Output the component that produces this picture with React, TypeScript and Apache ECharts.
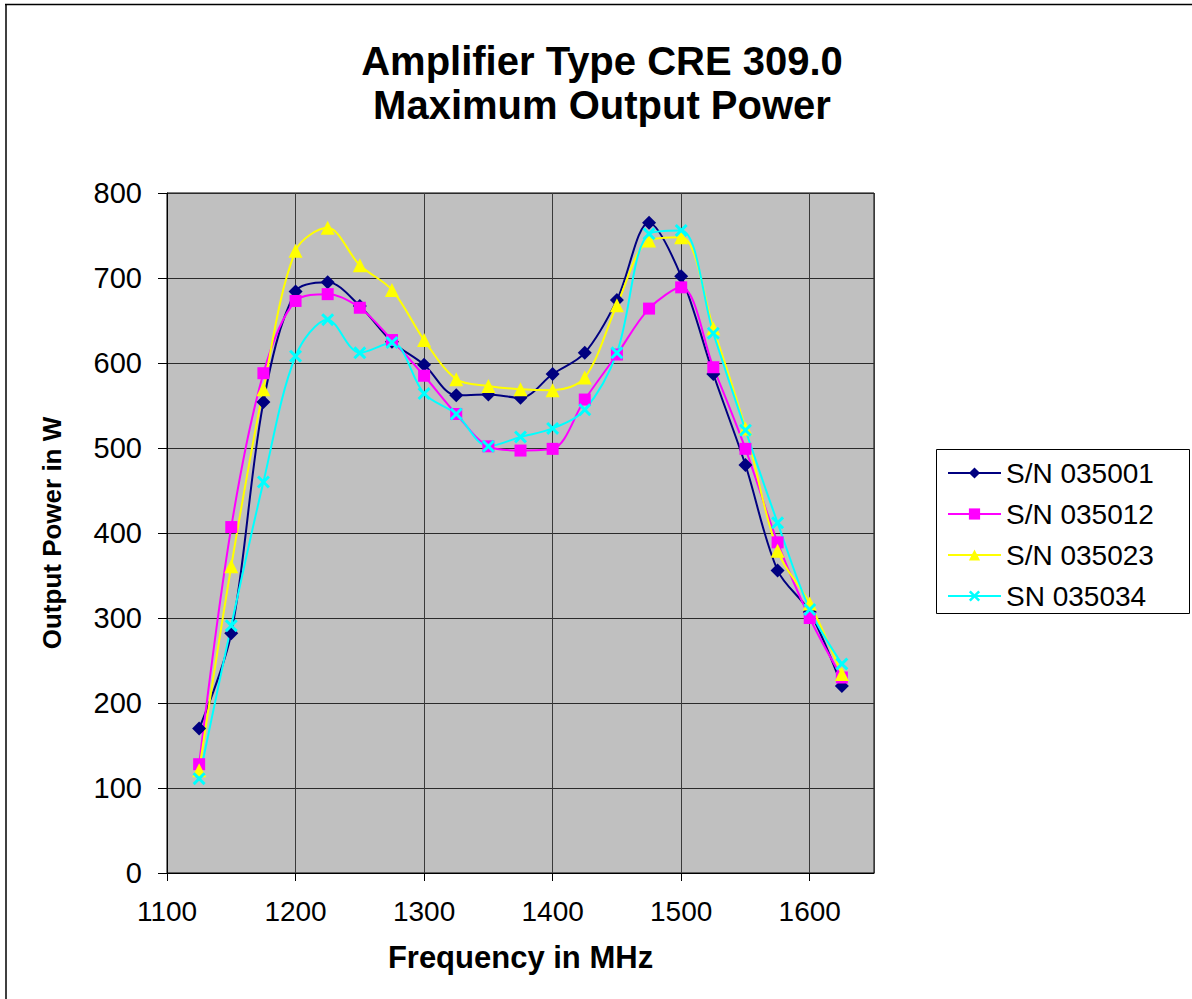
import React, { useEffect, useRef } from "react";
import * as echarts from "echarts";

const frequencies = [1125, 1150, 1175, 1200, 1225, 1250, 1275, 1300, 1325, 1350, 1375, 1400, 1425, 1450, 1475, 1500, 1525, 1550, 1575, 1600, 1625];
const sn035001 = [170, 282, 554, 684, 695, 667, 625, 598, 562, 563, 559, 587, 612, 674, 765, 702, 587, 480, 356, 307, 220];
const sn035012 = [128, 407, 588, 673, 681, 665, 627, 585, 540, 502, 497, 499, 557, 610, 664, 689, 595, 499, 389, 300, 230];
const sn035023 = [121, 361, 569, 732, 759, 715, 686, 627, 581, 573, 569, 568, 583, 668, 744, 748, 641, 523, 379, 317, 234];
const sn035034 = [111, 291, 460, 608, 651, 612, 624, 564, 540, 502, 513, 523, 545, 612, 752, 756, 635, 521, 412, 310, 246];
const seriesNames = ["S/N 035001", "S/N 035012", "S/N 035023", "SN 035034"];
const titleLines = ["Amplifier Type CRE 309.0", "Maximum Output Power"];

const FONT = "'Liberation Sans', Arial, Helvetica, sans-serif";
const CROSS = "path://M0,1.6L1.6,0L5,3.4L8.4,0L10,1.6L6.6,5L10,8.4L8.4,10L5,6.6L1.6,10L0,8.4L3.4,5Z";

export default function App() {
  const ref = useRef<HTMLDivElement>(null);
  useEffect(() => {
    if (!ref.current) return;
    const chart = echarts.init(ref.current, null, { renderer: "svg" });
    const pairs = (vals: number[]) => frequencies.map((f, i) => [f, vals[i]]);
    const mk = (name: string, vals: number[], color: string, symbol: string, size: number) => ({
      name,
      type: "line",
      data: pairs(vals),
      smooth: 0.33,
      symbol,
      symbolSize: size,
      lineStyle: { color, width: 2 },
      itemStyle: { color, borderWidth: 0 },
      emphasis: { disabled: true },
    });
    chart.setOption({
      animation: false,
      backgroundColor: "#ffffff",
      textStyle: { fontFamily: FONT },
      grid: {
        left: 167,
        top: 193,
        width: 707,
        height: 680,
        show: true,
        backgroundColor: "#C0C0C0",
        borderColor: "#000",
        borderWidth: 1,
      },
      xAxis: {
        type: "value",
        min: 1100,
        max: 1650,
        interval: 100,
        name: "Frequency in MHz",
        nameLocation: "middle",
        nameGap: 69,
        nameTextStyle: { fontSize: 31, fontWeight: "bold", color: "#000", fontFamily: FONT },
        axisLine: { show: true, lineStyle: { color: "#000", width: 1 } },
        axisTick: { show: true, length: 8, lineStyle: { color: "#000" } },
        axisLabel: {
          fontSize: 28,
          color: "#000",
          margin: 24,
          showMaxLabel: false,
          fontFamily: FONT,
          formatter: (v: number) => String(v),
        },
        splitLine: { show: true, lineStyle: { color: "#3a3a3a", width: 1 } },
      },
      yAxis: {
        type: "value",
        min: 0,
        max: 800,
        interval: 100,
        name: "Output Power in W",
        nameLocation: "middle",
        nameGap: 102,
        nameTextStyle: { fontSize: 26, fontWeight: "bold", color: "#000", fontFamily: FONT },
        axisLine: { show: true, lineStyle: { color: "#000", width: 1 } },
        axisTick: { show: true, length: 9, lineStyle: { color: "#000" } },
        axisLabel: { fontSize: 29, color: "#000", margin: 25, fontFamily: FONT, formatter: (v: number) => String(v) },
        splitLine: { show: true, lineStyle: { color: "#2a2a2a", width: 1 } },
      },
      legend: {
        orient: "vertical",
        left: 947,
        top: 459,
        padding: 0,
        itemWidth: 53,
        itemHeight: 14,
        itemGap: 13,
        selectedMode: false,
        textStyle: { fontSize: 28, color: "#000", fontFamily: FONT },
        data: seriesNames,
      },
      graphic: [
        { type: "line", shape: { x1: 5, y1: 4.5, x2: 1192, y2: 4.5 }, style: { stroke: "#000", lineWidth: 1.5 } },
        { type: "line", shape: { x1: 6, y1: 4, x2: 6, y2: 999 }, style: { stroke: "#000", lineWidth: 1.5 } },
        { type: "rect", z: -1, shape: { x: 936.5, y: 449.5, width: 253, height: 164 }, style: { fill: "#fff", stroke: "#000", lineWidth: 1 } },
        { type: "text", x: 602, y: 61, style: { text: titleLines[0], font: `bold 40px ${FONT}`, fill: "#000", textAlign: "center", textVerticalAlign: "middle" } },
        { type: "text", x: 602, y: 105, style: { text: titleLines[1], font: `bold 40px ${FONT}`, fill: "#000", textAlign: "center", textVerticalAlign: "middle" } },
      ],
      series: [
        mk(seriesNames[0], sn035001, "#000080", "diamond", 14),
        mk(seriesNames[1], sn035012, "#FF00FF", "rect", 12),
        mk(seriesNames[2], sn035023, "#FFFF00", "triangle", 14),
        mk(seriesNames[3], sn035034, "#00FFFF", CROSS, 13),
      ],
    });
    return () => chart.dispose();
  }, []);
  return <div ref={ref} style={{ position: "absolute", left: 0, top: 0, width: 1192, height: 999 }} />;
}
